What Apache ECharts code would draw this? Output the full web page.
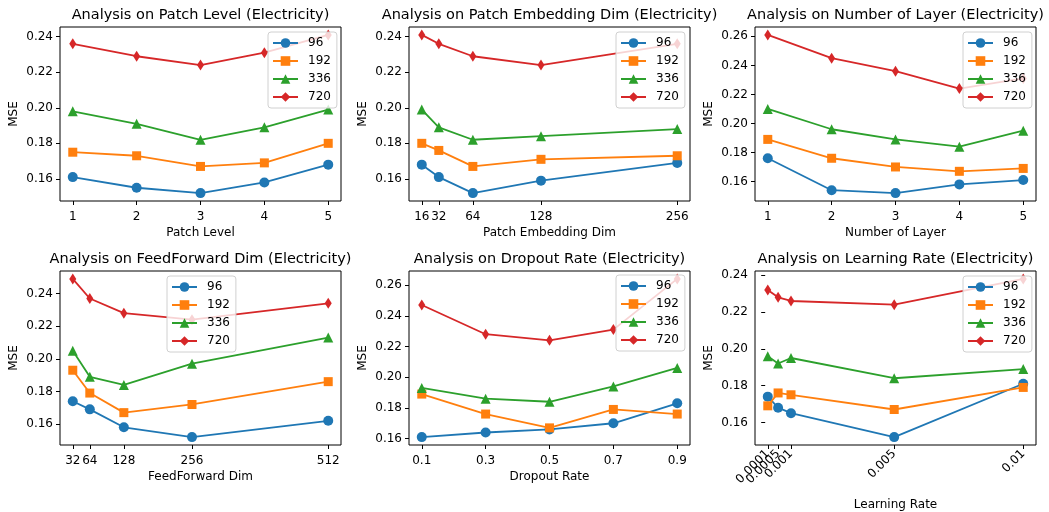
<!DOCTYPE html>
<html>
<head>
<meta charset="utf-8">
<script src="https://cdn.jsdelivr.net/npm/echarts@6/dist/echarts.min.js"></script>
<style>
  html, body { margin: 0; background: #fff; }
  #chart { width: 1049px; height: 512px; }
</style>
</head>
<body>
<div id="chart"></div>
<script>
'use strict';

/* Shared series setup: prediction horizons */
const horizons = ['96', '192', '336', '720'];
const colors = ['#1f77b4', '#ff7f0e', '#2ca02c', '#d62728'];
const markers = ['circle', 'rect', 'triangle', 'diamond'];
const markerSizes = [10, 9, 10, [7, 11]];

/* Values, one row per horizon (96, 192, 336, 720) */
const patchLevelX = [1, 2, 3, 4, 5];
const patchLevelMse = [
  [0.161, 0.155, 0.152, 0.158, 0.168],
  [0.175, 0.173, 0.167, 0.169, 0.180],
  [0.198, 0.191, 0.182, 0.189, 0.199],
  [0.236, 0.229, 0.224, 0.231, 0.241],
];

const embedDimX = [16, 32, 64, 128, 256];
const embedDimMse = [
  [0.168, 0.161, 0.152, 0.159, 0.169],
  [0.180, 0.176, 0.167, 0.171, 0.173],
  [0.199, 0.189, 0.182, 0.184, 0.188],
  [0.241, 0.236, 0.229, 0.224, 0.236],
];

const layerX = [1, 2, 3, 4, 5];
const layerMse = [
  [0.176, 0.154, 0.152, 0.158, 0.161],
  [0.189, 0.176, 0.170, 0.167, 0.169],
  [0.210, 0.196, 0.189, 0.184, 0.195],
  [0.261, 0.245, 0.236, 0.224, 0.231],
];

const ffDimX = [32, 64, 128, 256, 512];
const ffDimMse = [
  [0.174, 0.169, 0.158, 0.152, 0.162],
  [0.193, 0.179, 0.167, 0.172, 0.186],
  [0.205, 0.189, 0.184, 0.197, 0.213],
  [0.249, 0.237, 0.228, 0.224, 0.234],
];

const dropoutX = [0.1, 0.3, 0.5, 0.7, 0.9];
const dropoutMse = [
  [0.161, 0.164, 0.166, 0.170, 0.183],
  [0.189, 0.176, 0.167, 0.179, 0.176],
  [0.193, 0.186, 0.184, 0.194, 0.206],
  [0.247, 0.228, 0.224, 0.231, 0.264],
];

const lrX = [0.0001, 0.0005, 0.001, 0.005, 0.01];
const lrMse = [
  [0.174, 0.168, 0.165, 0.152, 0.181],
  [0.169, 0.176, 0.175, 0.167, 0.179],
  [0.196, 0.192, 0.195, 0.184, 0.189],
  [0.232, 0.228, 0.226, 0.224, 0.238],
];

/* Tick labels */
const patchLevelTicks = ['1', '2', '3', '4', '5'];
const embedDimTicks = ['16', '32', '64', '128', '256'];
const layerTicks = ['1', '2', '3', '4', '5'];
const ffDimTicks = ['32', '64', '128', '256', '512'];
const dropoutTicks = ['0.1', '0.3', '0.5', '0.7', '0.9'];
const lrTicks = ['0.0001', '0.0005', '0.001', '0.005', '0.01'];
const yTicksLow = [0.16, 0.18, 0.20, 0.22, 0.24];
const yTicksHigh = [0.16, 0.18, 0.20, 0.22, 0.24, 0.26];

const FONT = 'DejaVu Sans';

const panels = [
  { title: 'Analysis on Patch Level (Electricity)', xName: 'Patch Level', x: patchLevelX, mse: patchLevelMse, xTicks: patchLevelTicks, yTicks: yTicksLow, pos: [60, 27], legend: [268, 32] },
  { title: 'Analysis on Patch Embedding Dim (Electricity)', xName: 'Patch Embedding Dim', x: embedDimX, mse: embedDimMse, xTicks: embedDimTicks, yTicks: yTicksLow, pos: [409, 27], legend: [616, 32] },
  { title: 'Analysis on Number of Layer (Electricity)', xName: 'Number of Layer', x: layerX, mse: layerMse, xTicks: layerTicks, yTicks: yTicksHigh, pos: [755, 27], legend: [963, 32] },
  { title: 'Analysis on FeedForward Dim (Electricity)', xName: 'FeedForward Dim', x: ffDimX, mse: ffDimMse, xTicks: ffDimTicks, yTicks: yTicksLow, pos: [60, 271], legend: [167, 276] },
  { title: 'Analysis on Dropout Rate (Electricity)', xName: 'Dropout Rate', x: dropoutX, mse: dropoutMse, xTicks: dropoutTicks, yTicks: yTicksHigh, pos: [409, 271], legend: [616, 275] },
  { title: 'Analysis on Learning Rate (Electricity)', xName: 'Learning Rate', x: lrX, mse: lrMse, xTicks: lrTicks, yTicks: yTicksLow, pos: [755, 271], legend: [963, 276], rotate: true },
];

const PW = 281;
const PH = 174;

// matplotlib-style 5% padding around the data
const padRange = (vals) => {
  const lo = Math.min(...vals);
  const hi = Math.max(...vals);
  const pad = (hi - lo) * 0.05;
  return [lo - pad, hi + pad];
};

const grid = [], xAxis = [], yAxis = [], title = [], legend = [], series = [];
const extraAxes = [];

const tickLabel = (p) => (v) => {
  const k = p.x.findIndex((t) => Math.abs(t - v) < 1e-9);
  return k >= 0 ? p.xTicks[k] : '';
};

panels.forEach((p, i) => {
  const [xMin, xMax] = padRange(p.x);
  const [yMin, yMax] = padRange(p.mse.flat());

  grid.push({
    left: p.pos[0], top: p.pos[1], width: PW, height: PH,
    show: true, borderColor: '#000', borderWidth: 1, backgroundColor: 'transparent',
  });

  title.push({
    text: p.title,
    left: p.pos[0] + PW / 2,
    top: p.pos[1] - 19,
    textAlign: 'center',
    padding: 0,
    textStyle: { fontFamily: FONT, fontSize: 14.5, fontWeight: 'normal', color: '#000' },
  });

  // Rotated learning-rate labels overlap each other; split them over two
  // axes so ECharts keeps every one of them, like matplotlib does.
  const labelVals = p.rotate ? p.x.filter((_, j) => j !== 1) : p.x;

  const labelStyle = {
    margin: p.rotate ? 7 : 10,
    rotate: p.rotate ? 45 : 0,
    showMinLabel: true, showMaxLabel: true, hideOverlap: false,
    fontFamily: FONT, fontSize: 12, color: '#000',
    formatter: tickLabel(p),
  };

  xAxis.push({
    type: 'value', gridIndex: i, min: xMin, max: xMax, position: 'bottom',
    name: p.xName, nameLocation: 'middle', nameGap: p.rotate ? 54 : 26,
    nameTextStyle: { fontFamily: FONT, fontSize: 12, color: '#000' },
    axisLine: { show: false },
    splitLine: { show: false },
    axisTick: { show: true, customValues: p.x, length: 4, lineStyle: { color: '#000', width: 1 } },
    axisLabel: Object.assign({ customValues: labelVals }, labelStyle),
  });

  if (p.rotate) {
    extraAxes.push({
      type: 'value', gridIndex: i, min: xMin, max: xMax, position: 'bottom',
      axisLine: { show: false },
      splitLine: { show: false },
      axisTick: { show: false },
      axisLabel: Object.assign({ customValues: [p.x[1]] }, labelStyle),
    });
  }

  yAxis.push({
    type: 'value', gridIndex: i, min: yMin, max: yMax,
    name: 'MSE', nameLocation: 'middle', nameGap: 40,
    nameTextStyle: { fontFamily: FONT, fontSize: 12, color: '#000' },
    axisLine: { show: false },
    splitLine: { show: false },
    axisTick: { show: true, customValues: p.yTicks, length: 4, lineStyle: { color: '#000', width: 1 } },
    axisLabel: {
      customValues: p.yTicks,
      margin: 7,
      fontFamily: FONT, fontSize: 12, color: '#000',
      formatter: (v) => v.toFixed(2),
    },
  });

  legend.push({
    orient: 'vertical',
    left: p.legend[0], top: p.legend[1],
    data: horizons,
    itemWidth: 25, itemHeight: 12, itemGap: 6,
    padding: [5, 6, 5, 4],
    backgroundColor: 'rgba(255,255,255,0.8)',
    borderColor: '#d0d0d0', borderWidth: 1, borderRadius: 3,
    textStyle: { fontFamily: FONT, fontSize: 12, color: '#000', padding: [0, 0, 0, 5] },
  });

  horizons.forEach((h, k) => {
    series.push({
      type: 'line',
      name: h,
      xAxisIndex: i, yAxisIndex: i,
      data: p.x.map((xv, j) => [xv, p.mse[k][j]]),
      symbol: markers[k],
      symbolSize: markerSizes[k],
      showAllSymbol: true,
      itemStyle: { color: colors[k] },
      lineStyle: { color: colors[k], width: 1.8 },
      emphasis: { disabled: true },
      animation: false,
      z: 2 + k * 0.1,
    });
  });
});

const chart = echarts.init(document.getElementById('chart'));
chart.setOption({
  animation: false,
  backgroundColor: '#fff',
  title, grid, xAxis: xAxis.concat(extraAxes), yAxis, legend, series,
});
</script>
</body>
</html>
